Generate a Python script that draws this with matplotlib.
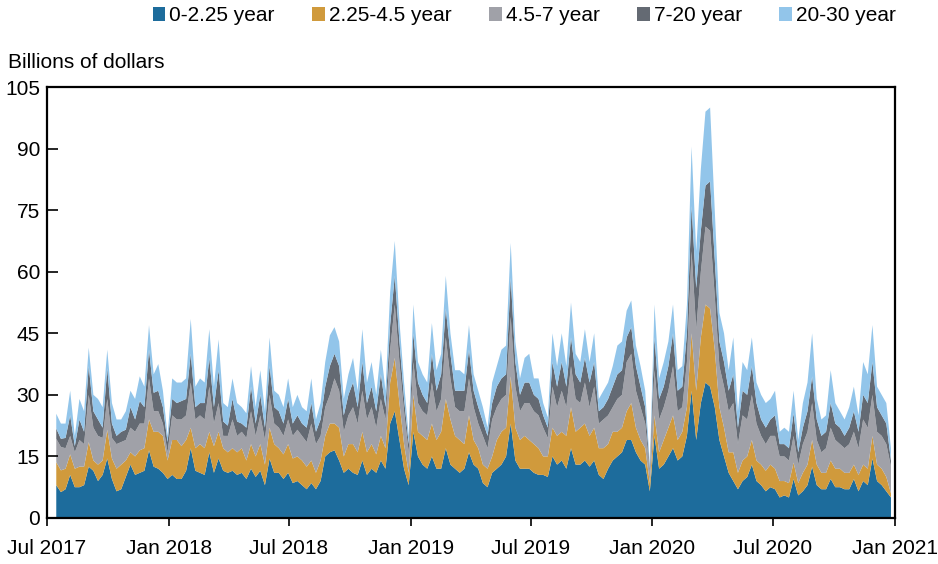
#Stacked area chart of weekly volumes by maturity bucket

import matplotlib
matplotlib.use('Agg')
import matplotlib.pyplot as plt
from matplotlib.patches import Patch
import pandas as pd

plt.rcParams['font.family'] = ['Liberation Sans', 'DejaVu Sans']

weeks = pd.date_range('2017-07-15', periods=181, freq='7D')

short = [8, 6.3, 7, 10.5, 7.5, 7.5, 8, 12.5, 11.5, 9,
         10.5, 14.5, 9.5, 6.5, 7, 10, 13, 10.5, 11, 11.5,
         16.5, 12.5, 12, 11, 9.5, 10.5, 9.5, 9.5, 11.5, 17,
         11.5, 11, 10.5, 16, 11, 14.5, 11.5, 11, 11.5, 10.5,
         11, 9.5, 12, 10, 11.5, 8, 14.5, 11, 11, 9.5,
         11, 8.5, 9, 8, 7, 8.5, 7, 9, 15, 16,
         16.5, 14, 11, 12, 11, 10.5, 14, 10.5, 12, 11,
         14, 12, 23, 26, 19, 12, 8, 21, 15, 13,
         12, 15, 12, 12, 17, 13, 12, 11, 12, 16,
         13, 12, 8.5, 7.5, 11, 12, 13, 15, 23, 14,
         12, 12, 12, 11, 10.5, 10.5, 10, 15, 13, 14,
         12, 17, 13, 13, 14, 12.5, 14, 10.5, 9.5, 12,
         14, 15, 16, 19, 19, 16, 14, 13, 6.5, 20,
         12, 13, 15, 17, 14, 15, 20, 31, 19, 28,
         33, 32, 27, 19, 15, 11, 9, 7, 9, 10,
         13, 9, 8, 6.5, 7.5, 7, 5, 5.5, 5, 9.5,
         5.5, 6.5, 8, 12.5, 8, 7, 7, 9.5, 7.5, 7.5,
         7, 7, 9.5, 6.5, 9, 8, 14.5, 9, 8, 6.5, 5]

mid = [5.6, 5.3, 5, 5, 4.5, 5, 4.5, 6, 2.5, 4,
       3.5, 7, 5, 5.5, 6, 4, 3, 4.5, 5.5, 5.5,
       7.5, 8.5, 9, 9, 4.5, 8.5, 9.5, 8, 7.5, 5,
       5.5, 7, 6.5, 5, 6.5, 6.5, 5.5, 5, 5.5, 5.5,
       6, 4.5, 6, 5, 6.5, 5, 7.5, 7, 6, 6,
       7, 6, 6, 6, 5.5, 5.5, 4, 5, 5, 7,
       6.5, 8, 4, 6, 7, 5.5, 7, 5.5, 6, 4.5,
       6, 5, 10, 13, 9, 6, 3, 9, 6, 7,
       7, 8, 7, 9, 12, 11, 8, 8, 6, 9,
       6, 5, 4.5, 4.5, 4, 7, 8, 7, 11.5, 8,
       7, 8, 7, 7, 6.5, 4.5, 5, 7, 7, 7,
       8, 10, 8, 9, 9, 7.5, 8, 6.5, 7.5, 6,
       7, 6, 6, 7, 9, 6, 5, 4, 2, 5,
       4, 6, 7, 8, 5, 6, 7, 14, 12, 16,
       19, 19, 14, 8, 7, 5, 7, 4, 5, 5,
       6, 5, 5, 5, 5.5, 5, 4, 3.5, 3.5, 4,
       3, 4.5, 5, 6.5, 5, 4, 4, 4.5, 4.5, 4.5,
       4, 4, 3.5, 4, 4, 4, 5.5, 4, 4, 3.5, 1]

belly = [5.7, 5.7, 5, 4.5, 4, 6.5, 5.5, 11.5, 8, 7,
         5.5, 7.5, 5, 6, 5.5, 5, 6, 6, 6.5, 6,
         10, 5, 5, 3, 2, 6, 5, 6.5, 6, 11,
         7, 7, 7, 11, 5.5, 7, 3, 4, 7, 4,
         4, 5.5, 8, 5, 7, 6, 8, 5, 5, 4.5,
         6, 5.5, 6.5, 6, 6, 9, 7, 6, 7, 7,
         11, 9, 6, 7, 9, 7, 10, 8, 9, 6.5,
         9, 7, 8, 13, 10, 8, 5, 8, 7, 6,
         6, 10, 7, 8, 15, 10, 7, 7, 8, 9,
         8, 6, 7, 5, 9, 8, 8, 8, 14.5, 10,
         7, 8, 9, 8, 8, 7, 4.5, 10, 7, 10,
         7, 10, 8, 6, 10, 7, 10, 6, 7, 7,
         6, 8, 8, 12, 12, 9, 8, 6, 2.5, 11,
         8, 8, 9, 12, 7, 6, 11, 20, 15, 16,
         19, 19, 13, 10, 10, 10, 12, 7, 11, 9,
         11, 9, 7, 6.5, 7, 8, 6, 6, 5.5, 6.5,
         4.5, 7, 8, 9, 6, 5, 6, 8, 7, 6,
         6, 7, 8, 6.5, 11, 10, 10, 8, 8, 8, 6.5]

bond = [2.5, 2, 2.5, 5, 1.5, 5, 3, 7, 4, 4,
        2.5, 7.5, 3.5, 2, 2.5, 2.5, 5, 3, 5.5, 4,
        7, 4.5, 5, 4, 2.5, 4, 4, 4.5, 4, 7,
        3, 3, 4, 7, 4, 8, 3.5, 2.5, 5, 3.5,
        2, 2.5, 6, 3, 5, 3, 7, 4, 4, 3,
        5, 3, 3.5, 3, 3.5, 5, 3, 4, 5, 7,
        6, 6, 4, 5, 6, 4, 7, 4, 5, 4,
        6, 3, 6, 7, 5, 3, 2, 7, 5, 4,
        3, 7, 5, 6, 7, 6, 4, 5, 5, 7,
        4, 4, 3.5, 3, 4, 5, 5, 5, 9.5, 6,
        4, 5, 5, 4, 4, 3, 2.5, 6, 5, 7,
        5, 7, 6, 5, 6, 6, 6, 3, 3, 4,
        5, 6, 6, 6, 6.5, 6, 5, 4, 1, 8,
        5, 5, 6, 8, 5, 5, 7, 11, 10, 10,
        10, 12, 9, 6, 6, 5, 7, 4, 6, 6,
        7, 5, 4, 4, 4, 5, 3, 3, 3, 5.5,
        3, 4, 5, 6.5, 5, 4, 4, 6, 4, 4,
        3, 4, 5, 4, 6, 6, 8, 6, 5, 5, 1.5]

long = [3.6, 3.7, 3.5, 6, 2.5, 5, 5, 4.5, 4, 5,
        5, 4.5, 5, 4, 3, 4.5, 4, 5, 6, 5,
        6, 4.5, 6.5, 4, 1.5, 5, 5, 4.5, 5, 8.5,
        5, 6, 5, 7, 5, 7.5, 4.5, 4.5, 5, 4.5,
        4, 3.5, 5, 4, 6, 4, 7, 4, 4, 4,
        5, 4, 5, 4, 4, 6, 3, 4, 6, 7.5,
        6.5, 6, 4, 5, 6, 4, 8, 5, 6, 4,
        6, 4, 8, 8.5, 5, 4, 2, 7, 5, 5,
        5, 7.5, 5, 5, 8, 5, 5, 5, 4, 6,
        4, 4, 3.5, 2, 5, 5, 7, 7, 8.5, 5,
        4, 6, 7, 4, 5, 3, 2.5, 7, 5, 7,
        5, 8.5, 5, 5, 7, 5, 7, 3, 4, 4,
        5, 7, 7, 6.5, 6.5, 5, 5, 4, 1, 8,
        5, 6, 6, 7, 5, 5, 7, 14.5, 9, 15,
        18, 18, 12, 7, 7, 5, 9, 4, 7, 6,
        7, 5, 6, 6, 5, 6, 3, 4, 4, 5.5,
        3, 6, 7, 10.5, 5, 4, 4, 8, 5, 4,
        4, 5, 6, 4, 8, 7, 9, 5, 5, 5, 3]

labels = ['0-2.25 year', '2.25-4.5 year', '4.5-7 year', '7-20 year', '20-30 year']
colors = ['#1d6c9c', '#d09a3c', '#a0a1a8', '#646a73', '#92c5ea']

tick_dates = ['2017-07-01', '2018-01-01', '2018-07-01', '2019-01-01',
              '2019-07-01', '2020-01-01', '2020-07-01', '2021-01-01']
tick_labels = ['Jul 2017', 'Jan 2018', 'Jul 2018', 'Jan 2019',
               'Jul 2019', 'Jan 2020', 'Jul 2020', 'Jan 2021']

fig = plt.figure(figsize=(9.38, 5.64), dpi=100)
ax = fig.add_axes([0.0501, 0.0816, 0.904, 0.7641])

ax.stackplot(weeks, short, mid, belly, bond, long, colors=colors, linewidth=0)

ax.set_xlim(pd.Timestamp(tick_dates[0]), pd.Timestamp(tick_dates[-1]))
ax.set_ylim(0, 105)
ax.set_yticks(range(0, 106, 15))
ax.set_xticks([pd.Timestamp(d) for d in tick_dates])
ax.set_xticklabels(tick_labels)

ax.tick_params(axis='y', direction='in', length=8, width=1.2, labelsize=15, pad=5)
ax.tick_params(axis='x', direction='out', length=6, width=1.2, labelsize=15, pad=9)
for s in ax.spines.values():
    s.set_linewidth(1.6)

# legend across the top
handles = [Patch(facecolor=c, edgecolor='none') for c in colors]
fig.legend(handles, labels, loc='center', bbox_to_anchor=(0.559, 0.972), ncol=5,
           frameon=False, fontsize=15, handlelength=0.6, handleheight=0.6,
           handletextpad=0.2, columnspacing=1.8, borderpad=0)

fig.text(8 / 938, 1 - 63 / 564, 'Billions of dollars', fontsize=15, ha='left', va='center')

fig.savefig('out.png', dpi=100)
